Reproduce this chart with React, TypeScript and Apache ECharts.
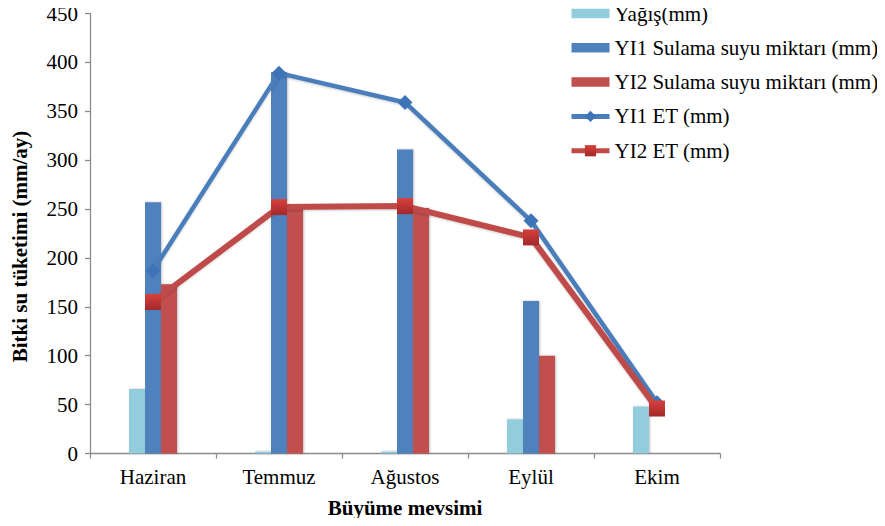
import React, { useEffect, useRef } from "react";
import * as echarts from "echarts";

const categories = ["Haziran", "Temmuz", "Ağustos", "Eylül", "Ekim"];
const yagis = [66, 2, 2, 35, 48];
const yi1Sulama = [257, 390, 311, 156, 0];
const yi2Sulama = [173, 251, 251, 100, 0];
const yi1ET = [187, 389, 359, 238, 52];
const yi2ET = [155, 252, 253, 221, 46];
const seriesNames = [
  "Yağış(mm)",
  "YI1 Sulama suyu miktarı (mm)",
  "YI2 Sulama suyu miktarı (mm)",
  "YI1 ET (mm)",
  "YI2 ET (mm)",
];

const FONT = "Liberation Serif";

export default function App() {
  const ref = useRef<HTMLDivElement>(null);
  useEffect(() => {
    if (!ref.current) return;
    const chart = echarts.init(ref.current, undefined, { renderer: "svg" });
    const axisLineStyle = { color: "#8c8c8c", width: 1.3 };
    const barIcon = "path://M0,0H36V9H0Z";
    chart.setOption({
      animation: false,
      backgroundColor: "#ffffff",
      grid: { left: 90, top: 13.5, width: 630, height: 440, containLabel: false },
      legend: {
        orient: "vertical",
        left: 569,
        top: 3,
        padding: 0,
        itemWidth: 38,
        itemHeight: 14,
        itemGap: 13.3,
        lineStyle: { width: 5 },
        textStyle: { fontFamily: FONT, fontSize: 21, color: "#000" },
        data: [
          { name: seriesNames[0], icon: barIcon },
          { name: seriesNames[1], icon: barIcon },
          { name: seriesNames[2], icon: barIcon },
          { name: seriesNames[3] },
          { name: seriesNames[4] },
        ],
      },
      xAxis: {
        type: "category",
        data: categories,
        name: "Büyüme mevsimi",
        nameLocation: "middle",
        nameGap: 44,
        nameTextStyle: { fontFamily: FONT, fontSize: 21, fontWeight: "bold", color: "#000" },
        axisLine: { lineStyle: axisLineStyle },
        axisTick: { show: true, length: 5, lineStyle: axisLineStyle },
        axisLabel: { fontFamily: FONT, fontSize: 21, color: "#000", margin: 13 },
      },
      yAxis: {
        type: "value",
        min: 0,
        max: 450,
        interval: 50,
        name: "Bitki su tüketimi (mm/ay)",
        nameLocation: "middle",
        nameGap: 60,
        nameRotate: 90,
        nameTextStyle: { fontFamily: FONT, fontSize: 21, fontWeight: "bold", color: "#000", padding: [0, 26, 0, 0] },
        axisLine: { show: true, lineStyle: axisLineStyle },
        axisTick: { show: true, length: 5, lineStyle: axisLineStyle },
        splitLine: { show: false },
        axisLabel: { fontFamily: FONT, fontSize: 21, color: "#000", margin: 12 },
      },
      series: [
        {
          name: seriesNames[0],
          type: "bar",
          data: yagis,
          barWidth: 16,
          barGap: "0%",
          itemStyle: { color: "#93CDDD", shadowColor: "rgba(0,0,0,0.25)", shadowBlur: 2, shadowOffsetX: 1 },
        },
        {
          name: seriesNames[1],
          type: "bar",
          data: yi1Sulama,
          barWidth: 16,
          barGap: "0%",
          itemStyle: { color: "#4F81BD", shadowColor: "rgba(0,0,0,0.25)", shadowBlur: 2, shadowOffsetX: 1 },
        },
        {
          name: seriesNames[2],
          type: "bar",
          data: yi2Sulama,
          barWidth: 16,
          barGap: "0%",
          itemStyle: { color: "#C0504D", shadowColor: "rgba(0,0,0,0.25)", shadowBlur: 2, shadowOffsetX: 1 },
        },
        {
          name: seriesNames[3],
          type: "line",
          data: yi1ET,
          symbol: "diamond",
          symbolSize: 15,
          z: 5,
          lineStyle: { color: "#4A7EBB", width: 4.5, shadowColor: "rgba(0,0,0,0.2)", shadowBlur: 2, shadowOffsetY: 1 },
          itemStyle: { color: "#3D74B8" },
        },
        {
          name: seriesNames[4],
          type: "line",
          data: yi2ET,
          symbol: "rect",
          symbolSize: 16,
          z: 6,
          lineStyle: { color: "#BE4B48", width: 6, shadowColor: "rgba(0,0,0,0.2)", shadowBlur: 2, shadowOffsetY: 1 },
          itemStyle: {
            color: new echarts.graphic.LinearGradient(0, 0, 0, 1, [
              { offset: 0, color: "#D7403C" },
              { offset: 1, color: "#A3282A" },
            ]),
          },
        },
      ],
    });
    return () => chart.dispose();
  }, []);
  return <div ref={ref} style={{ width: 885, height: 526, margin: -8 }} />;
}
